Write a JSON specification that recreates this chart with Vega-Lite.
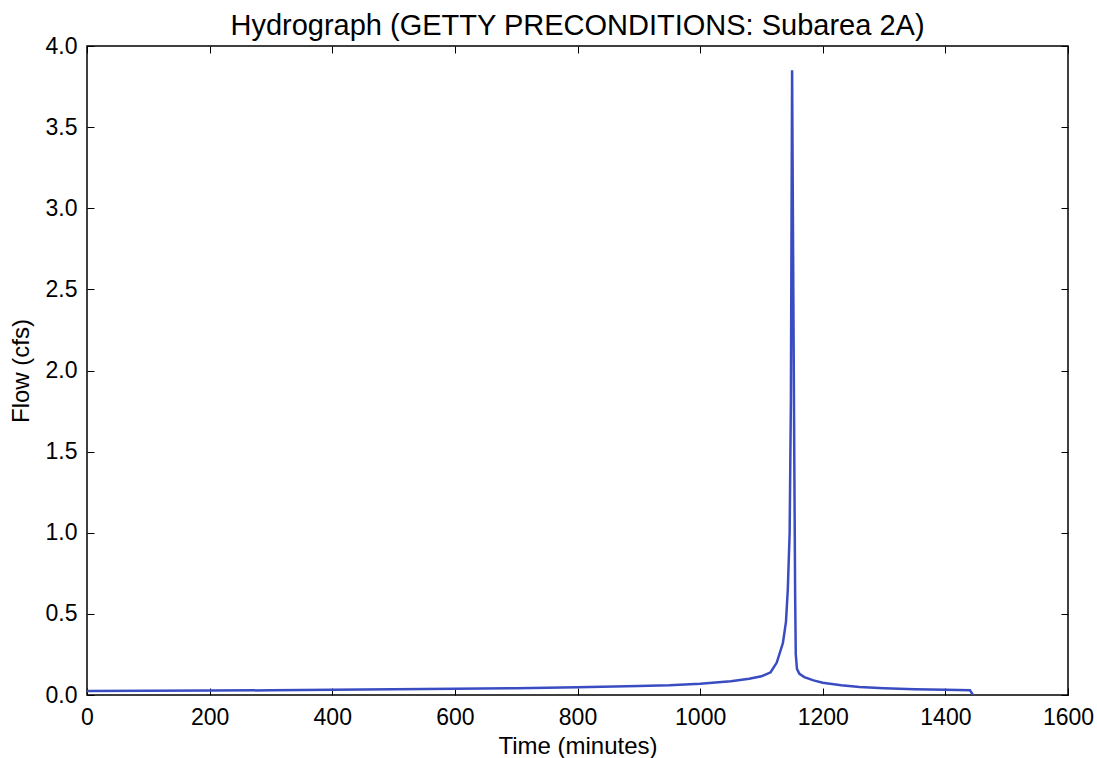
{
  "$schema": "https://vega.github.io/schema/vega-lite/v6.json",
  "width": 981,
  "height": 649,
  "autosize": "none",
  "padding": {"left": 87, "top": 46, "right": 29, "bottom": 63},
  "background": "white",
  "title": {"text": "Hydrograph (GETTY PRECONDITIONS: Subarea 2A)", "font": "Liberation Sans", "fontSize": 29, "fontWeight": "normal", "color": "black", "offset": -6},
  "config": {
    "view": {"stroke": "black", "strokeWidth": 1.5},
    "axis": {"grid": false, "domain": false, "tickColor": "black", "tickWidth": 1, "tickSize": -7, "labelFont": "Liberation Sans", "labelFontSize": 23, "labelColor": "black", "labelFlush": false, "labelOverlap": false, "titleFont": "Liberation Sans", "titleFontSize": 24, "titleFontWeight": "normal", "titleColor": "black"}
  },
  "data": {"values": [
    {"t": 0, "q": 0.025}, {"t": 100, "q": 0.026}, {"t": 200, "q": 0.027}, {"t": 300, "q": 0.029},
    {"t": 400, "q": 0.032}, {"t": 500, "q": 0.035}, {"t": 600, "q": 0.038}, {"t": 700, "q": 0.042},
    {"t": 800, "q": 0.047}, {"t": 900, "q": 0.055}, {"t": 950, "q": 0.06}, {"t": 1000, "q": 0.07},
    {"t": 1050, "q": 0.085}, {"t": 1080, "q": 0.1}, {"t": 1100, "q": 0.115}, {"t": 1115, "q": 0.14},
    {"t": 1125, "q": 0.2}, {"t": 1135, "q": 0.32}, {"t": 1140, "q": 0.45}, {"t": 1143, "q": 0.65},
    {"t": 1146, "q": 1.0}, {"t": 1148, "q": 1.8}, {"t": 1150, "q": 3.85}, {"t": 1152, "q": 2.5},
    {"t": 1154, "q": 1.2}, {"t": 1155, "q": 0.6}, {"t": 1156, "q": 0.25}, {"t": 1158, "q": 0.16},
    {"t": 1162, "q": 0.13}, {"t": 1170, "q": 0.11}, {"t": 1185, "q": 0.09}, {"t": 1200, "q": 0.075},
    {"t": 1230, "q": 0.06}, {"t": 1260, "q": 0.05}, {"t": 1300, "q": 0.042}, {"t": 1350, "q": 0.036},
    {"t": 1400, "q": 0.032}, {"t": 1440, "q": 0.03}, {"t": 1445, "q": 0.0}
  ]},
  "layer": [
    {
      "mark": {"type": "line", "color": "#3a4cc2", "strokeWidth": 2.5, "clip": true},
      "encoding": {
        "x": {"field": "t", "type": "quantitative", "scale": {"domain": [0, 1600], "nice": false, "zero": false}, "axis": {"title": "Time (minutes)", "values": [0, 200, 400, 600, 800, 1000, 1200, 1400, 1600], "format": "d", "labelPadding": 18, "titlePadding": 5}},
        "y": {"field": "q", "type": "quantitative", "scale": {"domain": [0, 4], "nice": false}, "axis": {"title": "Flow (cfs)", "values": [0, 0.5, 1, 1.5, 2, 2.5, 3, 3.5, 4], "format": ".1f", "labelPadding": 17, "titlePadding": 12}}
      }
    },
    {
      "mark": {"type": "line", "opacity": 0},
      "encoding": {
        "x": {"field": "t", "type": "quantitative", "axis": {"orient": "top", "title": null, "labels": false, "values": [0, 200, 400, 600, 800, 1000, 1200, 1400, 1600]}},
        "y": {"field": "q", "type": "quantitative", "axis": {"orient": "right", "title": null, "labels": false, "values": [0, 0.5, 1, 1.5, 2, 2.5, 3, 3.5, 4]}}
      }
    }
  ],
  "resolve": {"axis": {"x": "independent", "y": "independent"}}
}
